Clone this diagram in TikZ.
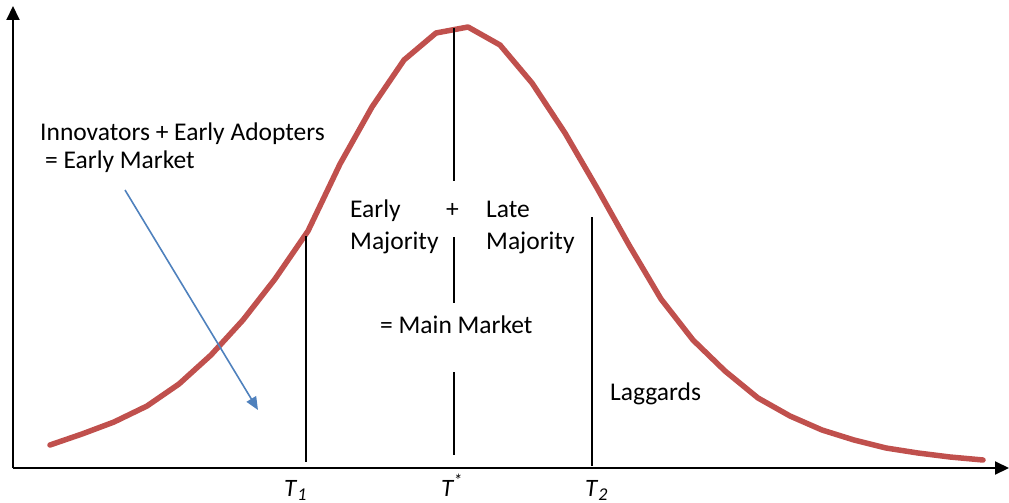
\documentclass[tikz,border=0pt]{standalone}
\usepackage{fontspec}
\setmainfont{Carlito}
\usetikzlibrary{arrows.meta}
\definecolor{curvered}{HTML}{C0504D}
\definecolor{arrowblue}{HTML}{4F81BD}
\newcommand{\mysub}[1]{\kern1pt\raisebox{-4pt}{\fontsize{18}{20}\selectfont #1}}
\begin{document}
\begin{tikzpicture}[x=1pt,y=-1pt,
  axisline/.style={line width=2pt,-{Triangle[length=14pt,width=13pt]}},
  markline/.style={line width=1.8pt,black},
  curveline/.style={line width=5.5pt,curvered,line join=round,line cap=round},
  bluearrow/.style={line width=1.6pt,arrowblue,-{Triangle[length=13pt,width=11pt]}},
  lbl/.style={anchor=base west,inner sep=0pt,font=\fontsize{25.5}{30}\selectfont},
  tlbl/.style={anchor=base west,inner sep=0pt,font=\fontsize{25}{30}\selectfont\itshape}]
\useasboundingbox (0,0) rectangle (1009,503);
% axes
\coordinate (O) at (13,468);
\coordinate (ytop) at (13,6);
\coordinate (xend) at (1009,468);
\draw[axisline] (O) -- (ytop);
\draw[axisline] (O) -- (xend);
% curve
\draw[curveline] plot coordinates {
(50,445) (82,434) (114,422) (147,406) (179,384) (211,355) (243,320) (275,279)
(308,231) (340,164) (372,107) (404,60) (436,33) (468,27) (500,45) (532,83)
(565,133) (597,188) (629,245) (661,299) (693,340) (725,371) (758,398) (790,416)
(822,430) (854,440) (886,448) (918,453) (950,457) (983,460)};
% vertical marker lines
\coordinate (t1a) at (306,236); \coordinate (t1b) at (306,462);
\draw[markline] (t1a) -- (t1b);
\coordinate (tsa) at (454,28); \coordinate (tsb) at (454,181);
\draw[markline] (tsa) -- (tsb);
\coordinate (tsc) at (454,237); \coordinate (tsd) at (454,303);
\draw[markline] (tsc) -- (tsd);
\coordinate (tse) at (454,372); \coordinate (tsf) at (454,455);
\draw[markline] (tse) -- (tsf);
\coordinate (t2a) at (592,217); \coordinate (t2b) at (592,466);
\draw[markline] (t2a) -- (t2b);
% blue arrow
\coordinate (arrS) at (125,190);
\coordinate (arrE) at (258,410);
\draw[bluearrow] (arrS) -- (arrE);
% texts
\node[lbl] (inn) at (40,140) {Innovators + Early Adopters};
\node[lbl] (em) at (45,168) {= Early Market};
\node[lbl] (early) at (350,217) {Early};
\node[lbl] (plus) at (446,217) {+};
\node[lbl] (late) at (486,217) {Late};
\node[lbl] (maj1) at (350,249) {Majority};
\node[lbl] (maj2) at (486,249) {Majority};
\node[lbl] (mm) at (380,333) {= Main Market};
\node[lbl] (lag) at (610,400) {Laggards};
\node[tlbl] (T1) at (284,496) {T\mysub{1}};
\node[tlbl] (Ts) at (441,496) {T\textsuperscript{*}};
\node[tlbl] (T2) at (585,496) {T\mysub{2}};
\end{tikzpicture}
\end{document}
